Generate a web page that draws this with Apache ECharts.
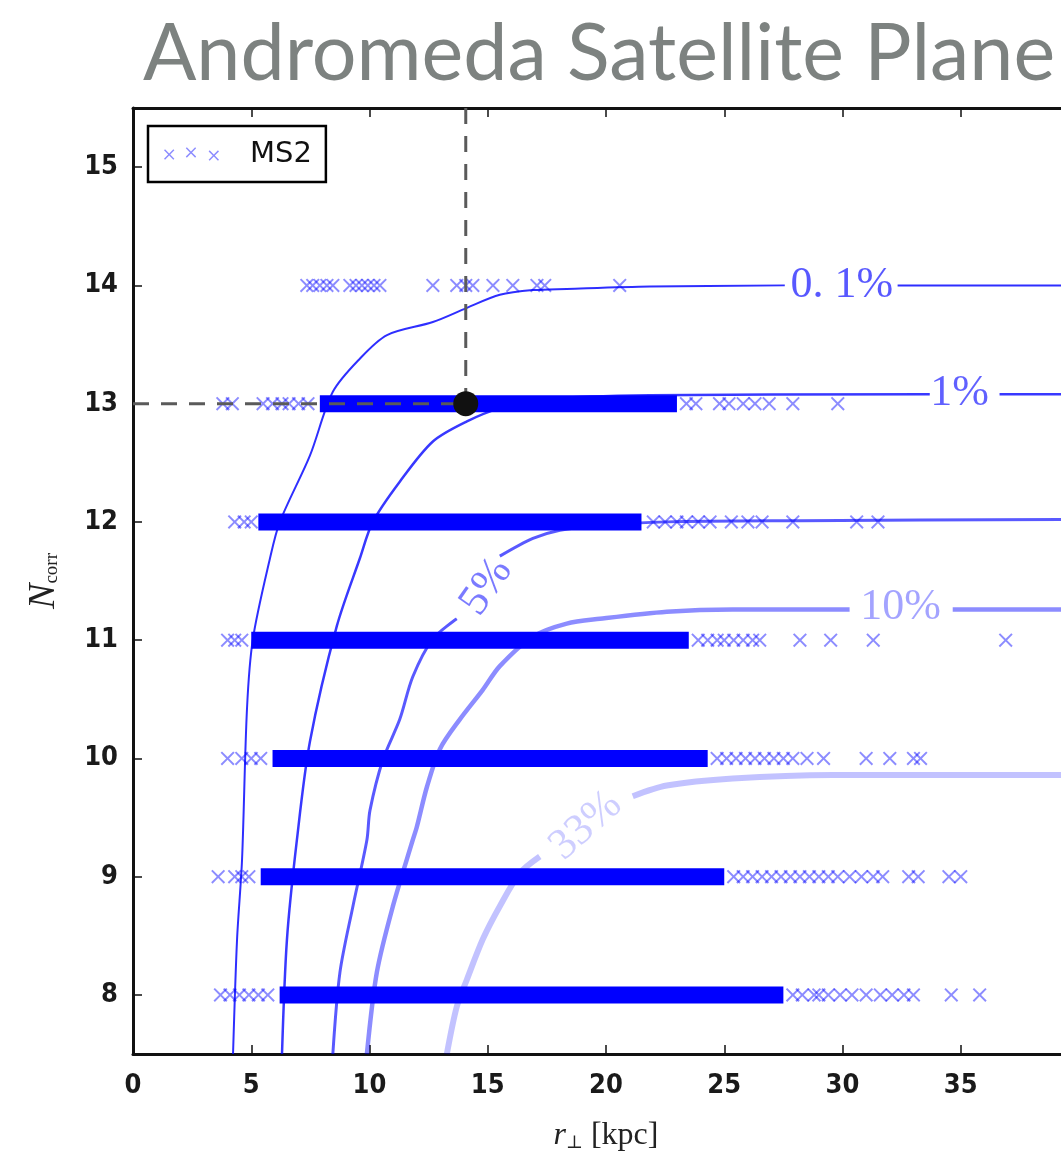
<!DOCTYPE html>
<html>
<head>
<meta charset="utf-8">
<title>Andromeda Satellite Plane</title>
<script src="https://cdn.jsdelivr.net/npm/echarts@6/dist/echarts.min.js"></script>
<style>
    html, body { margin: 0; padding: 0; background: #fff; }
    #chart { width: 1061px; height: 1154px; }
</style>
</head>
<body>
<div id="chart"></div>
<script>
// rows of N_corr that have satellites
var rowN = [8, 9, 10, 11, 12, 13];
// where the solid band of crosses begins / ends on each row (kpc)
var bandStart = [6.2, 5.4, 5.9, 5.0, 5.3, 7.9];
var bandEnd = [27.5, 25.0, 24.3, 23.5, 21.5, 23.0];

// single crosses outside the solid band
var cross8 = [3.7, 4.1, 4.5, 4.9, 5.3, 5.7, 27.9, 28.3, 28.8, 29.0, 29.4, 29.9, 30.4, 31.0, 31.6, 32.1, 32.6, 33.0, 34.6, 35.8];
var cross9 = [3.6, 4.3, 4.6, 4.9, 25.4, 25.8, 26.2, 26.6, 27.0, 27.4, 27.8, 28.2, 28.6, 29.0, 29.4, 29.8, 30.3, 30.8, 31.3, 31.7, 32.8, 33.2, 34.5, 35.0];
var cross10 = [4.0, 4.6, 5.0, 5.4, 24.7, 25.1, 25.5, 25.9, 26.3, 26.7, 27.1, 27.5, 27.9, 28.5, 29.2, 31.0, 32.0, 33.0, 33.3];
var cross11 = [4.0, 4.3, 4.6, 23.9, 24.3, 24.7, 25.0, 25.4, 25.8, 26.2, 26.5, 28.2, 29.5, 31.3, 36.9];
var cross12 = [4.3, 4.7, 5.0, 22.0, 22.5, 23.0, 23.4, 23.9, 24.4, 25.3, 26.0, 26.6, 27.9, 30.6, 31.5];
var cross13 = [3.8, 4.2, 5.5, 5.9, 6.3, 6.6, 7.0, 7.4, 23.4, 23.8, 24.8, 25.2, 25.8, 26.3, 26.9, 27.9, 29.8];
var cross14 = [7.35, 7.6, 7.9, 8.2, 8.45, 9.17, 9.43, 9.68, 9.93, 10.19, 10.44, 12.68, 13.69, 14.07, 14.37, 15.22, 16.06, 17.08, 17.41, 20.58];

// observed Andromeda plane
var obsR = [14.07];
var obsN = [13];

// contour lines, '-' marks the gap left for the label
var c01 = [[4.23, 7.5], [4.40, 8.47], [4.61, 9.14], [4.82, 10.42], [5.07, 11.01], [5.79, 11.69], [6.21, 12.0], [7.48, 12.56], [8.45, 13.10], [9.59, 13.38], [10.74, 13.58], [12.68, 13.69], [14.12, 13.81], [15.51, 13.92], [16.91, 13.96], [18.34, 13.97], [21.85, 13.99], [27.56, 14.0], '-', [32.33, 14.0], [40, 14.0]];
var c1 = [[6.30, 7.5], [6.51, 8.47], [6.93, 9.31], [7.48, 10.14], [8.62, 11.12], [9.59, 11.69], [10.14, 12.0], [11.28, 12.34], [12.68, 12.68], [14.12, 12.85], [15.51, 12.96], [17.62, 13.04], [21.85, 13.07], [33.69, 13.08], '-', [36.64, 13.08], [40, 13.08]];
var c5 = [[8.45, 7.5], [8.75, 8.19], [9.30, 8.75], [9.89, 9.31], [10.02, 9.56], [10.57, 9.99], [11.28, 10.33], [11.83, 10.69], [12.68, 11.01], [13.69, 11.18], '-', [15.51, 11.71], [16.91, 11.86], [18.05, 11.93], [19.74, 11.97], [22.57, 12.0], [28.19, 12.01], [40, 12.02]];
var c10 = [[9.89, 7.5], [10.31, 8.19], [10.99, 8.75], [11.83, 9.31], [12.0, 9.42], [12.43, 9.76], [12.98, 10.08], [13.82, 10.33], [14.79, 10.58], [15.51, 10.78], [16.91, 11.03], [18.34, 11.14], [19.74, 11.18], [22.57, 11.24], [25.36, 11.26], [30.30, 11.26], '-', [34.66, 11.26], [40, 11.26]];
var c33 = [[13.27, 7.5], [13.69, 7.9], [14.12, 8.13], [14.79, 8.47], [15.51, 8.75], [16.36, 9.03], [17.20, 9.17], '-', [21.13, 9.68], [22.57, 9.77], [25.36, 9.83], [29.59, 9.86], [40, 9.86]];

// contour labels
var labelText = ['0. 1%', '1%', '5%', '10%', '33%'];
var labelX = [29.97, 34.95, 14.95, 32.46, 19.15];
var labelY = [14.0, 13.09, 11.45, 11.28, 9.43];
var labelRotate = [0, 0, 55, 0, 42];

var contourColor = ['rgba(0,0,255,0.82)', 'rgba(0,0,255,0.78)', 'rgba(0,0,255,0.65)', 'rgba(0,0,255,0.45)', 'rgba(0,0,255,0.24)'];
var contourWidth = [2, 2.5, 3, 4.5, 6];

// filled x marker
function xShape(ox, oy) {
    return 'M' + ox + ',' + (oy + 1) + ' L' + (ox + 1) + ',' + oy + ' L' + (ox + 5) + ',' + (oy + 4) +
        ' L' + (ox + 9) + ',' + oy + ' L' + (ox + 10) + ',' + (oy + 1) + ' L' + (ox + 6) + ',' + (oy + 5) +
        ' L' + (ox + 10) + ',' + (oy + 9) + ' L' + (ox + 9) + ',' + (oy + 10) + ' L' + (ox + 5) + ',' + (oy + 6) +
        ' L' + (ox + 1) + ',' + (oy + 10) + ' L' + ox + ',' + (oy + 9) + ' L' + (ox + 4) + ',' + (oy + 5) + ' Z';
}
var xSymbol = 'path://' + xShape(0, 0);
var xLegendIcon = 'path://' + xShape(0, 2) + ' ' + xShape(21, 0) + ' ' + xShape(43, 3);

// sparse crosses -> [x, N]
function crossData() {
    var rows = [cross8, cross9, cross10, cross11, cross12, cross13, cross14];
    var out = [];
    for (var i = 0; i < rows.length; i++) {
        for (var j = 0; j < rows[i].length; j++) {
            out.push([rows[i][j], 8 + i]);
        }
    }
    return out;
}

function InitChart(id) {
    var Chart = echarts.init(document.getElementById(id));
    var series = [];

    // solid bands
    for (var i = 0; i < rowN.length; i++) {
        series.push({
            name: 'band' + rowN[i],
            type: 'line',
            symbol: 'none',
            silent: true,
            z: 2,
            lineStyle: { color: '#0000ff', width: 17, cap: 'butt' },
            data: [[bandStart[i], rowN[i]], [bandEnd[i], rowN[i]]]
        });
    }

    // single crosses
    series.push({
        name: 'MS2',
        type: 'scatter',
        symbol: xSymbol,
        symbolSize: 14,
        z: 3,
        itemStyle: { color: 'rgba(0,0,255,0.45)', opacity: 1 },
        data: crossData()
    });

    // contours
    var contours = [c01, c1, c5, c10, c33];
    for (var k = 0; k < contours.length; k++) {
        series.push({
            name: 'c' + k,
            type: 'line',
            symbol: 'none',
            smooth: 0.3,
            silent: true,
            connectNulls: false,
            z: 4,
            lineStyle: { color: contourColor[k], width: contourWidth[k] },
            data: contours[k]
        });
    }

    // contour labels
    var lab = [];
    for (var m = 0; m < labelText.length; m++) {
        lab.push({
            value: [labelX[m], labelY[m]],
            label: { formatter: labelText[m], rotate: labelRotate[m], color: contourColor[m] }
        });
    }
    series.push({
        name: 'labels',
        type: 'scatter',
        symbolSize: 0,
        silent: true,
        z: 5,
        label: {
            show: true,
            position: 'inside',
            fontFamily: 'Liberation Serif',
            fontSize: 44
        },
        data: lab
    });

    // dashed guide lines to the observed value
    series.push({
        name: 'hguide',
        type: 'line',
        symbol: 'none',
        silent: true,
        z: 6,
        lineStyle: { color: '#5a5a5a', width: 3, type: [16, 12] },
        data: [[0, obsN[0]], [obsR[0], obsN[0]]]
    });
    series.push({
        name: 'vguide',
        type: 'line',
        symbol: 'none',
        silent: true,
        z: 6,
        lineStyle: { color: '#5a5a5a', width: 3, type: [16, 12] },
        data: [[obsR[0], 15.5], [obsR[0], obsN[0]]]
    });
    series.push({
        name: 'obs',
        type: 'scatter',
        symbol: 'circle',
        symbolSize: 25,
        silent: true,
        z: 7,
        itemStyle: { color: '#111', opacity: 1 },
        data: [[obsR[0], obsN[0]]]
    });

    var axisTxt = { fontFamily: "'DejaVu Sans Condensed', 'DejaVu Sans'", fontSize: 27, fontWeight: 'bold', color: '#1a1a1a' };
    var yTicks = [8, 9, 10, 11, 12, 13, 14, 15];

    Chart.setOption({
        animation: false,
        backgroundColor: '#fff',
        title: {
            text: 'Andromeda Satellite Plane',
            left: 143,
            top: 15,
            padding: 0,
            textStyle: { fontFamily: 'Lato', fontSize: 79, fontWeight: 'normal', color: '#7d8280' }
        },
        legend: {
            data: [{ name: 'MS2', icon: xLegendIcon }],
            left: 148,
            top: 126,
            padding: [12, 14, 12, 16],
            itemWidth: 55,
            itemHeight: 15,
            borderColor: '#000',
            borderWidth: 2.5,
            borderRadius: 0,
            selectedMode: false,
            textStyle: { fontFamily: 'DejaVu Sans', fontSize: 29, color: '#111', lineHeight: 32, padding: [0, 0, 0, 26] }
        },
        grid: {
            left: 133,
            top: 108,
            width: 946,
            height: 946,
            outerBoundsMode: 'none',
            containLabel: false
        },
        xAxis: [
            {
                type: 'value',
                min: 0,
                max: 40,
                interval: 5,
                position: 'bottom',
                name: '{i|r}{s|⊥} [kpc]',
                nameLocation: 'middle',
                nameGap: 66,
                nameTextStyle: {
                    fontFamily: 'Liberation Serif',
                    fontSize: 32,
                    color: '#222',
                    rich: {
                        i: { fontFamily: 'Liberation Serif', fontStyle: 'italic', fontSize: 32, color: '#222' },
                        s: { fontFamily: 'DejaVu Serif', fontSize: 18, color: '#222', padding: [14, 0, 0, 0] }
                    }
                },
                axisLine: { lineStyle: { color: '#111', width: 3 } },
                axisTick: { inside: true, length: 9, lineStyle: { color: '#111', width: 1.5 } },
                axisLabel: Object.assign({ margin: 18 }, axisTxt),
                splitLine: { show: false }
            },
            {
                type: 'value',
                min: 0,
                max: 40,
                interval: 5,
                position: 'top',
                axisLine: { lineStyle: { color: '#111', width: 3 } },
                axisTick: { inside: true, length: 9, lineStyle: { color: '#111', width: 1.5 } },
                axisLabel: { show: false },
                splitLine: { show: false }
            }
        ],
        yAxis: [
            {
                type: 'value',
                min: 7.5,
                max: 15.5,
                name: '{i|N}{s|corr}',
                nameLocation: 'middle',
                nameGap: 70,
                nameRotate: 90,
                nameTextStyle: {
                    rich: {
                        i: { fontFamily: 'Liberation Serif', fontStyle: 'italic', fontSize: 38, color: '#222' },
                        s: { fontFamily: 'Liberation Serif', fontSize: 19, color: '#222', padding: [16, 0, 0, 0] }
                    }
                },
                axisLine: { lineStyle: { color: '#111', width: 3 } },
                axisTick: { inside: true, length: 9, customValues: yTicks, lineStyle: { color: '#111', width: 1.5 } },
                axisLabel: Object.assign({ margin: 15, customValues: yTicks }, axisTxt),
                splitLine: { show: false }
            }
        ],
        series: series
    });
}

InitChart('chart');
</script>
</body>
</html>
